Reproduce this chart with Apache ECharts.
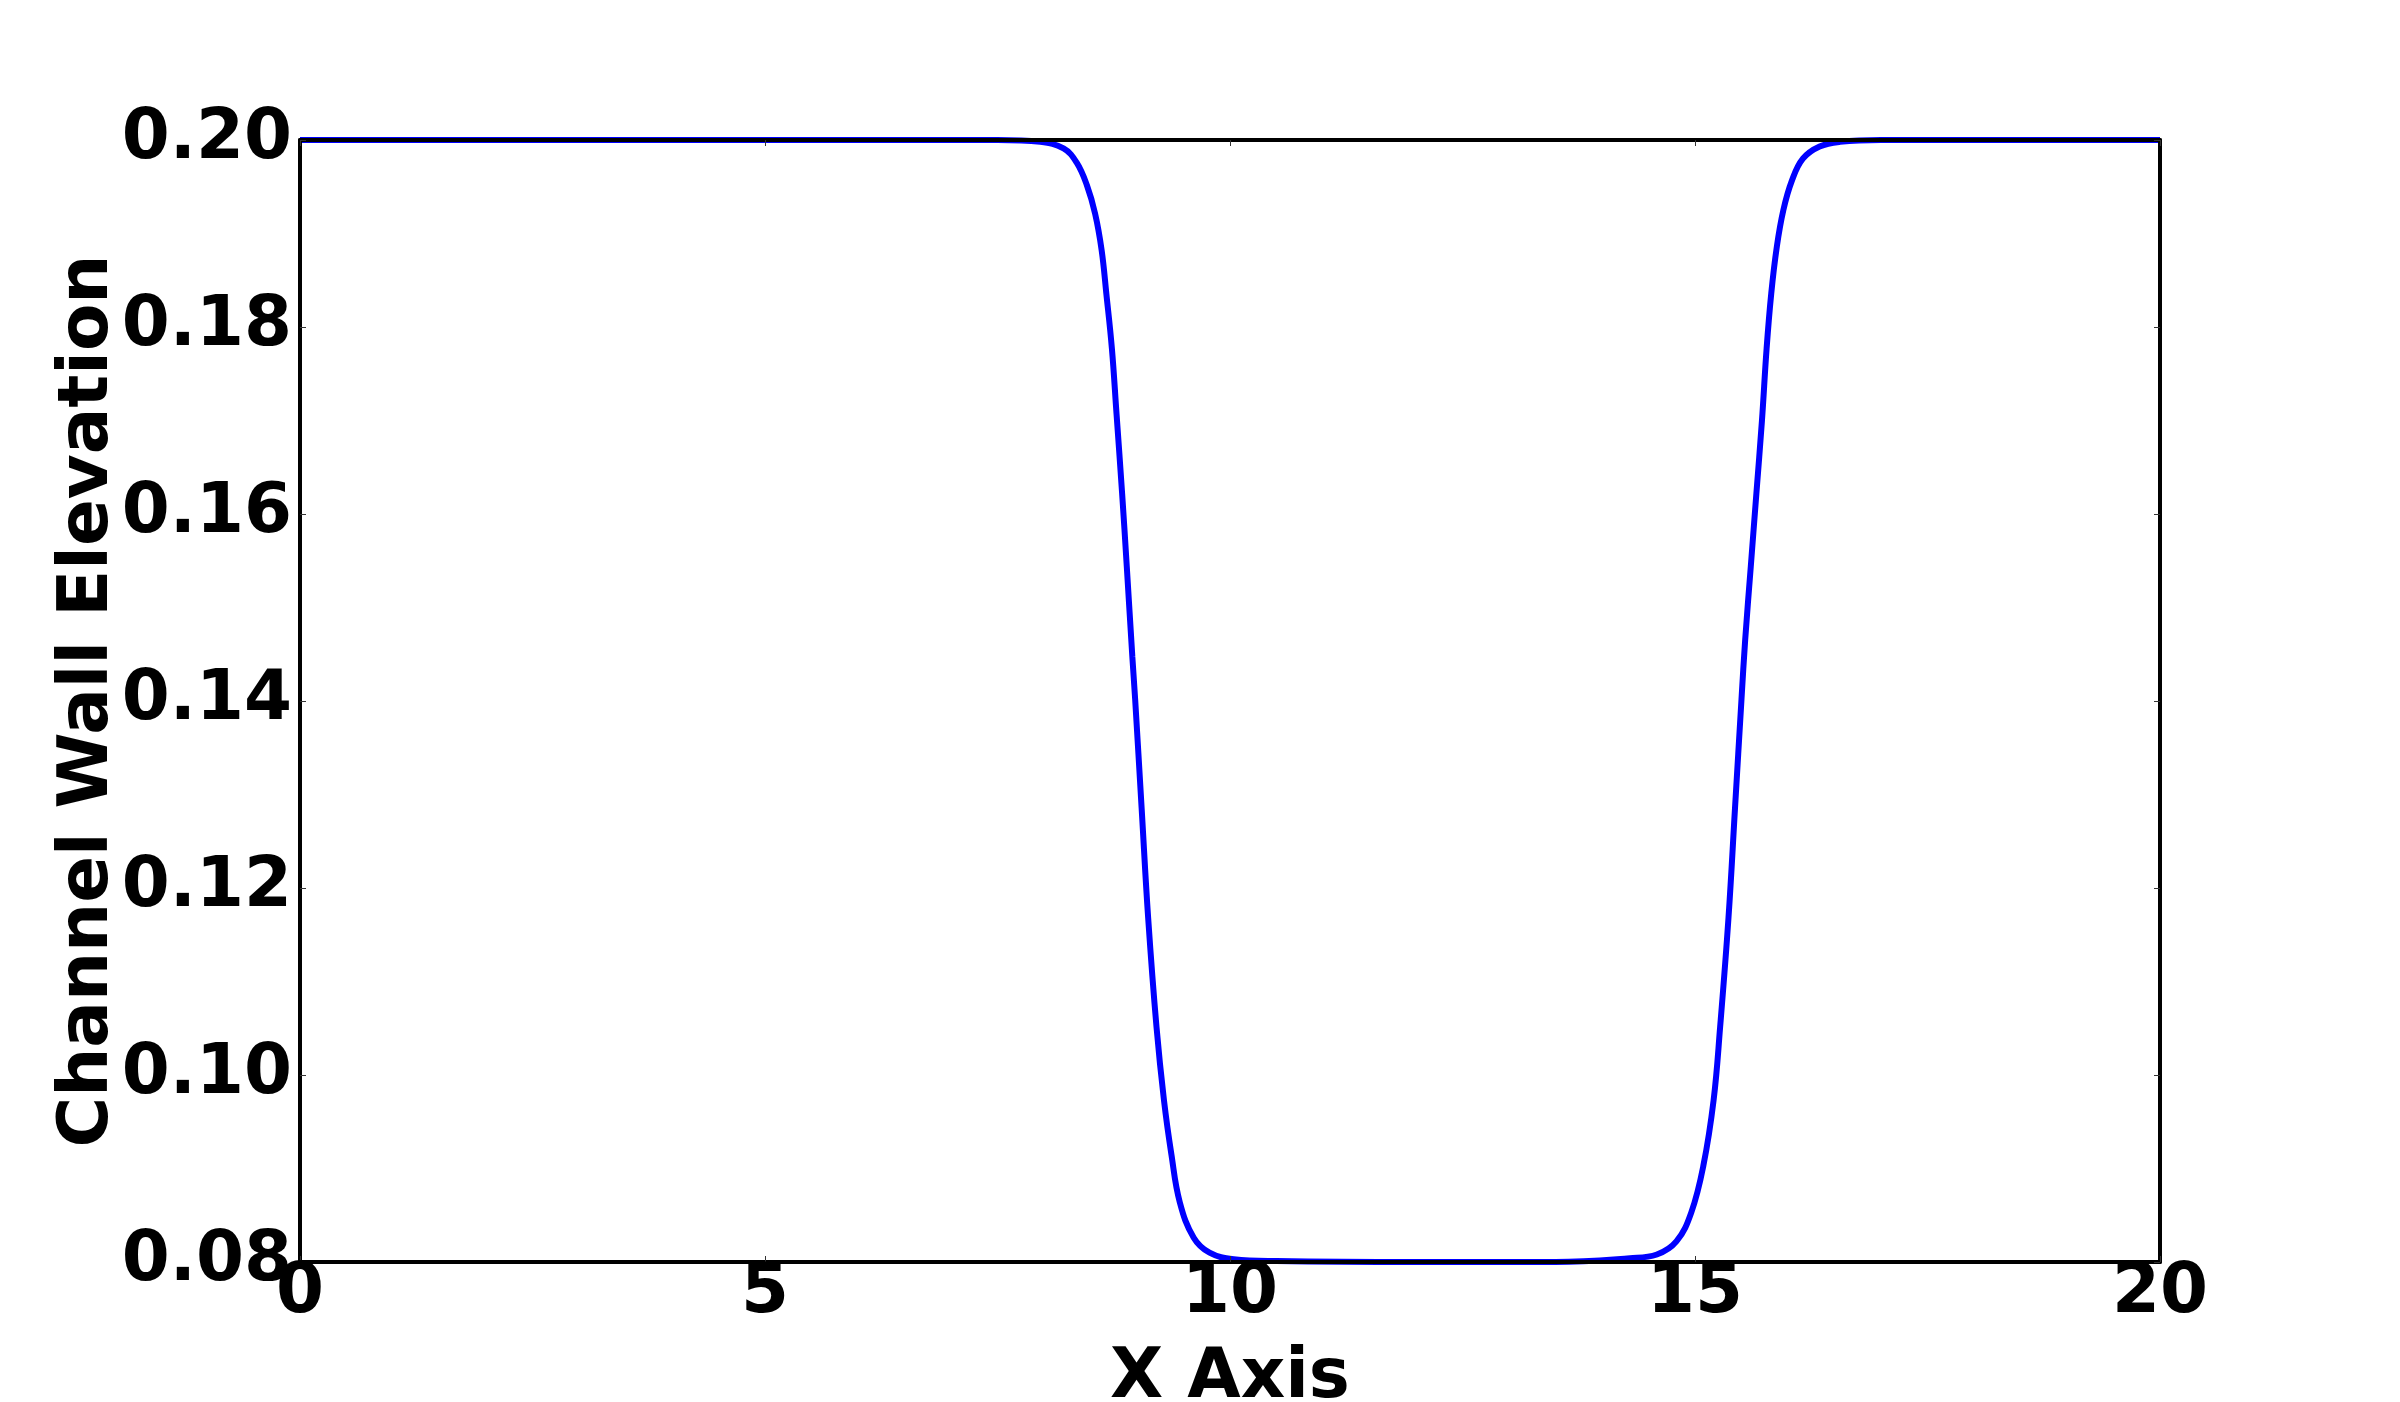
<!DOCTYPE html>
<html>
<head>
<meta charset="utf-8">
<title>Channel Wall Elevation</title>
<script src="https://cdn.jsdelivr.net/npm/echarts@6/dist/echarts.min.js"></script>
<style>
    html, body { margin: 0; padding: 0; background: #fff; }
    #chart { width: 2400px; height: 1402px; }
</style>
</head>
<body>
<div id="chart"></div>
<script>
// x positions
const xValues = [
    0, 2, 4, 6, 7.5, 7.96, 8.21, 8.35, 8.46, 8.55, 8.62, 8.67, 8.73, 8.78, 8.84, 8.89,
    8.95, 8.98, 9.05, 9.12, 9.21, 9.29, 9.37, 9.46, 9.61, 9.78, 10.04, 10.5, 12, 13.5,
    14.30, 14.59, 14.80, 14.96, 15.09, 15.20, 15.27, 15.36, 15.43, 15.50, 15.54, 15.60,
    15.66, 15.72, 15.77, 15.82, 15.88, 15.95, 16.04, 16.16, 16.34, 16.56, 17, 18, 20
]
// channel wall elevation at each x
const elevation = [
    0.2, 0.2, 0.2, 0.2, 0.2, 0.1998, 0.1991, 0.1976, 0.1952, 0.1921, 0.1882, 0.1836, 0.1777, 0.1707, 0.1622, 0.1544,
    0.1447, 0.1402, 0.1285, 0.1168, 0.1051, 0.0973, 0.0915, 0.0864, 0.0826, 0.0810, 0.0803, 0.0801, 0.08, 0.08,
    0.0804, 0.0808, 0.0822, 0.0853, 0.0903, 0.0973, 0.1051, 0.1168, 0.1285, 0.1402, 0.1466, 0.1544,
    0.1622, 0.1700, 0.1777, 0.1836, 0.1886, 0.1925, 0.1956, 0.1980, 0.1993, 0.1998, 0.2, 0.2, 0.2
]
const xTicks = [0, 5, 10, 15, 20]
const yTicks = [0.08, 0.10, 0.12, 0.14, 0.16, 0.18, 0.20]

const font = 'DejaVu Sans'
const fontSize = 69
const chart = echarts.init(document.getElementById('chart'), null, { renderer: 'canvas' })

const lineStyle = { color: '#000', width: 4 }
const tickStyle = { show: true, inside: true, length: 6, lineStyle: { color: '#333', width: 1 } }
const textStyle = { fontFamily: font, fontWeight: 'bold', fontSize: fontSize, color: '#000' }

function xAxisBase(pos){
    return {
        type: 'value',
        position: pos,
        min: xTicks[0],
        max: xTicks[xTicks.length - 1],
        interval: xTicks[1] - xTicks[0],
        splitLine: { show: false },
        axisLine: { show: true, onZero: false, lineStyle: lineStyle },
        axisTick: tickStyle,
        z: 10
    }
}
function yAxisBase(pos){
    return {
        type: 'value',
        position: pos,
        min: yTicks[0],
        max: yTicks[yTicks.length - 1],
        interval: 0.02,
        splitLine: { show: false },
        axisLine: { show: true, onZero: false, lineStyle: lineStyle },
        axisTick: tickStyle,
        z: 10
    }
}

const bottomX = Object.assign(xAxisBase('bottom'), {
    name: 'X Axis',
    nameLocation: 'middle',
    nameGap: 83,
    nameTextStyle: textStyle,
    axisLabel: Object.assign({ show: true, margin: -2 }, textStyle)
})
const topX = Object.assign(xAxisBase('top'), { axisLabel: { show: false } })
const leftY = Object.assign(yAxisBase('left'), {
    name: 'Channel Wall Elevation',
    nameLocation: 'middle',
    nameGap: 176,
    nameMoveOverlap: false,
    nameTextStyle: textStyle,
    axisLabel: Object.assign({ show: true, margin: 8, formatter: v => v.toFixed(2) }, textStyle)
})
const rightY = Object.assign(yAxisBase('right'), { axisLabel: { show: false } })

const option = {
    animation: false,
    backgroundColor: '#fff',
    grid: { left: 300, right: 240, top: 140, bottom: 140, containLabel: false, outerBoundsMode: 'none' },
    xAxis: [bottomX, topX],
    yAxis: [leftY, rightY],
    series: [{
        type: 'line',
        xAxisIndex: 0,
        yAxisIndex: 0,
        data: xValues.map((x, i) => [x, elevation[i]]),
        showSymbol: false,
        smooth: 0.4,
        clip: true,
        lineStyle: { color: '#0000ff', width: 6 },
        z: 2
    }]
}
chart.setOption(option)
</script>
</body>
</html>
